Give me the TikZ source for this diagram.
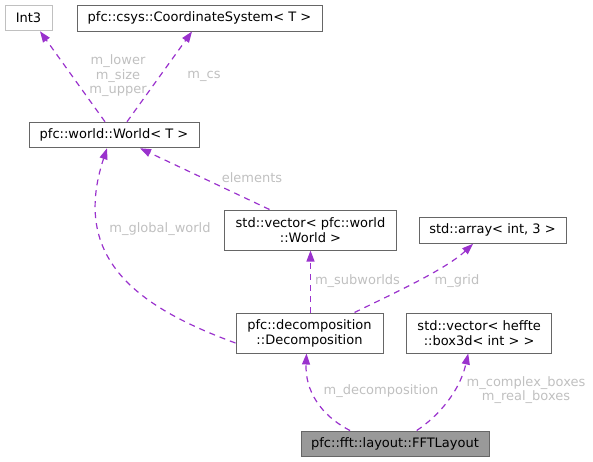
\documentclass[tikz,border=0pt]{standalone}
\usepackage{fontspec}
\setmainfont{DejaVu Sans}
\usetikzlibrary{arrows.meta}
\definecolor{edgec}{HTML}{9A32CD}
\definecolor{labc}{HTML}{C0C0C0}
\definecolor{boxc}{HTML}{666666}
\definecolor{lightbox}{HTML}{C0C0C0}
\definecolor{mainfill}{HTML}{999999}
\begin{document}
\begin{tikzpicture}[x=1pt,y=-1pt,
  cls/.style={draw=boxc, fill=white, rectangle, inner sep=0pt, align=center, font=\fontsize{13}{15}\selectfont, line width=1pt},
  rel/.style={draw=edgec, dashed, dash pattern=on 6pt off 5pt, line width=1.2pt, -{Triangle[length=11pt,width=8pt,fill=edgec]}},
  lab/.style={text=labc, font=\fontsize{13}{14.5}\selectfont, align=center, inner sep=0pt}]
\useasboundingbox (0,0) rectangle (593,461);
\node[cls, draw=lightbox, minimum width=47pt, minimum height=25.5pt] (int3) at (28.5,18) {Int3};
\node[cls, minimum width=245pt, minimum height=26pt] (csys) at (199.5,18) {pfc::csys::CoordinateSystem< T >};
\node[cls, minimum width=170pt, minimum height=25.5pt] (world) at (114,135) {pfc::world::World< T >};
\node[cls, minimum width=172pt, minimum height=40pt] (vecw) at (310.5,230) {std::vector< pfc::world\\::World >};
\node[cls, minimum width=147pt, minimum height=26pt] (arr) at (492.5,230.3) {std::array< int, 3 >};
\node[cls, minimum width=147pt, minimum height=40pt] (dec) at (309.5,333) {pfc::decomposition\\::Decomposition};
\node[cls, minimum width=145pt, minimum height=40pt] (heff) at (479.2,333) {std::vector< heffte\\::box3d< int > >};
\node[cls, fill=mainfill, minimum width=188pt, minimum height=25pt] (fft) at (395,443.5) {pfc::fft::layout::FFTLayout};

\draw[rel] ([xshift=-9pt]world.north) -- ([xshift=11.5pt]int3.south);
\node[lab] (l1) at (118,76) {m\_lower\\m\_size\\m\_upper};
\draw[rel] ([xshift=13pt]world.north) -- ([xshift=-7.5pt]csys.south);
\node[lab] (l2) at (204,76) {m\_cs};
\draw[rel] ([xshift=-41pt]vecw.north) -- ([xshift=26pt]world.south);
\node[lab] (l3) at (252,178) {elements};
\draw[rel] ([yshift=-10pt]dec.west) .. controls (140,308) and (70,260) .. ([xshift=-7pt]world.south);
\node[lab] (l4) at (160,229) {m\_global\_world};
\draw[rel] (dec.north -| vecw.south) -- (vecw.south);
\node[lab] (l5) at (357.5,281) {m\_subworlds};
\draw[rel] ([xshift=45pt]dec.north) .. controls (390,295) and (445,270) .. ([xshift=-19.5pt]arr.south);
\node[lab] (l6) at (457,281) {m\_grid};
\draw[rel] ([xshift=-45pt]fft.north) .. controls (320,415) and (305,390) .. ([xshift=-3pt]dec.south);
\node[lab] (l7) at (381,391) {m\_decomposition};
\draw[rel] ([xshift=21.7pt]fft.north) .. controls (440,415) and (460,390) .. ([xshift=-11pt]heff.south);
\node[lab] (l8) at (526,390) {m\_complex\_boxes\\m\_real\_boxes};
\end{tikzpicture}
\end{document}
